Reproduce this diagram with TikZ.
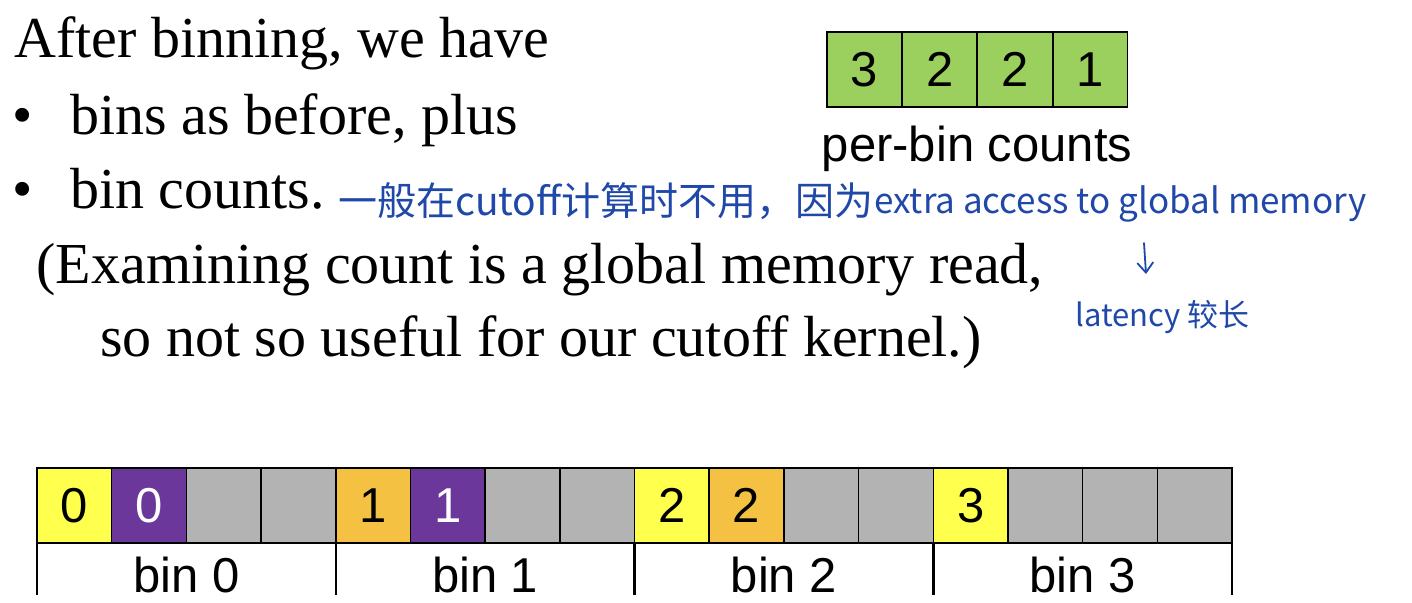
\documentclass[tikz,border=0pt]{standalone}
\usepackage{fontspec}
\setmainfont{Liberation Serif}
\setsansfont{Liberation Sans}
\newfontfamily\cjkhand{Noto Sans CJK SC}
\usetikzlibrary{arrows.meta}

\definecolor{cellyellow}{RGB}{255,255,77}
\definecolor{cellpurple}{RGB}{107,55,155}
\definecolor{cellorange}{RGB}{244,193,66}
\definecolor{cellgray}{RGB}{179,179,179}
\definecolor{cellgreen}{RGB}{155,208,95}
\definecolor{inkblue}{RGB}{32,72,168}

\begin{document}
\begin{tikzpicture}[x=1pt,y=-1pt,
  serifline/.style={inner sep=0pt, anchor=base west, font=\fontsize{58}{70}\selectfont},
  serifcentre/.style={inner sep=0pt, anchor=base, font=\fontsize{58}{70}\selectfont},
  cell/.style={draw=black, line width=1.5pt, minimum width=74.7pt, minimum height=75pt,
    inner sep=0pt, outer sep=0pt, anchor=north west, font=\sffamily\fontsize{49}{58}\selectfont},
  sanslabel/.style={inner sep=0pt, anchor=base, font=\sffamily\fontsize{49}{58}\selectfont},
  hand/.style={inner sep=0pt, anchor=base west, text=inkblue, font=\cjkhand\fontsize{39}{46}\selectfont},
  handsmall/.style={hand, font=\cjkhand\fontsize{35}{42}\selectfont},
  handtiny/.style={hand, font=\cjkhand\fontsize{31}{38}\selectfont},
  binmark/.style={line width=2.5pt},
  handarrow/.style={draw=inkblue, line width=1.8pt, line cap=round,
    -{Straight Barb[length=10pt,width=16pt,line width=1.8pt]}}
]
\useasboundingbox (0,0) rectangle (1412,602);

% slide text
\node[serifline] (title) at (14,58) {After binning, we have};
\node[serifline] (dotA) at (12,134) {\textbullet};
\node[serifline] (itemA) at (70,134) {bins as before, plus};
\node[serifline] (dotB) at (12,208) {\textbullet};
\node[serifline] (itemB) at (70,208) {bin counts.};
\node[serifcentre] (noteA) at (540,283) {(Examining count is a global memory read,};
\node[serifcentre] (noteB) at (541,356) {so not so useful for our cutoff kernel.)};

% per-bin counts
\foreach \v [count=\i from 0] in {3,2,2,1}
  \node[cell, fill=cellgreen] (k\i) at (827+75.3*\i,32) {\v};
\node[sanslabel] (klabel) at (977,161) {per-bin counts};

% binned array
\foreach \col/\lab/\txt [count=\i from 0] in {
    cellyellow/0/black, cellpurple/0/white, cellgray//black, cellgray//black,
    cellorange/1/black, cellpurple/1/white, cellgray//black, cellgray//black,
    cellyellow/2/black, cellorange/2/black, cellgray//black, cellgray//black,
    cellyellow/3/black, cellgray//black, cellgray//black, cellgray//black}
  \node[cell, fill=\col, text=\txt] (c\i) at (37+74.69*\i,468) {\lab};

% bin boundaries and labels
\foreach \k in {0,4,8,12}
  \draw[binmark] (c\k.south west) -- ++(0,52);
\draw[binmark] (c15.south east) -- ++(0,52);
\foreach \k in {0,...,3}
  \node[sanslabel] (bin\k) at (186.4+298.75*\k,592) {bin \k};

% handwritten remark
\node[hand] (remarkA) at (338,215) {一般在cutoff计算时不用，因为};
\node[handsmall] (remarkB) at (874,213) {extra access to global memory};
\node[handtiny] (latency) at (1075,326) {latency 较长};
\coordinate (arrtop) at (1144,243);
\coordinate (arrtip) at (1146,274);
\draw[handarrow] (arrtop) -- (arrtip);
\end{tikzpicture}
\end{document}
